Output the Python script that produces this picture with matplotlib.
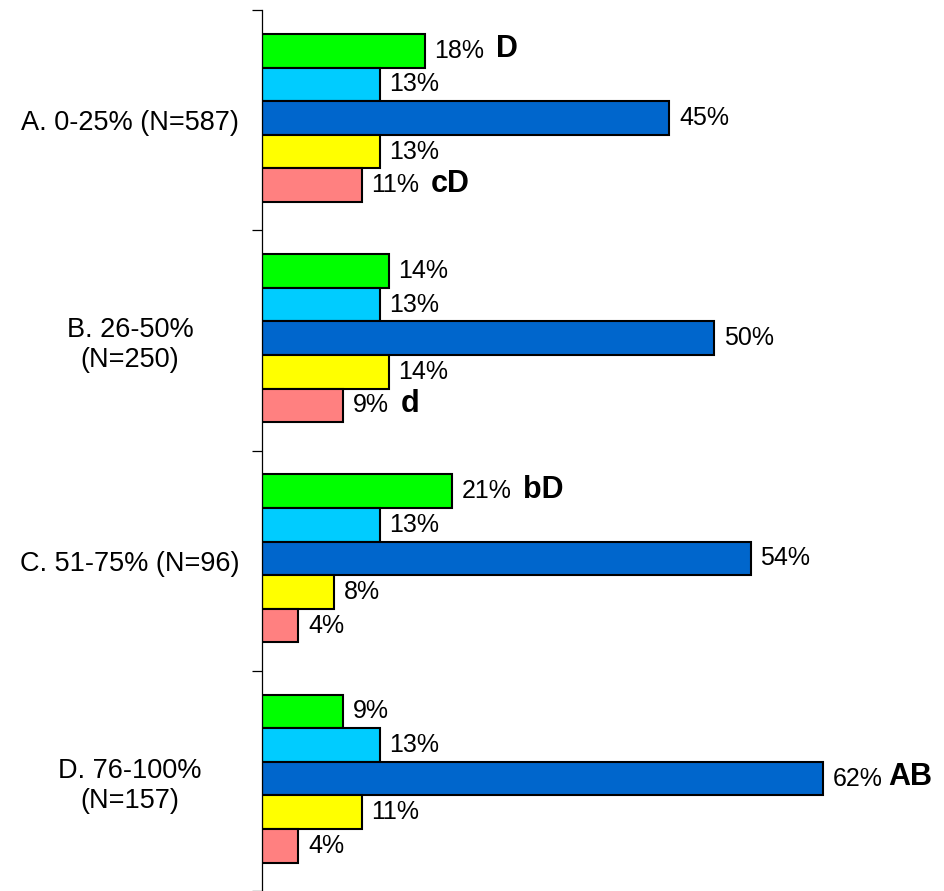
import matplotlib
matplotlib.use("Agg")
import matplotlib.pyplot as plt

plt.rcParams['font.family'] = ['Liberation Sans', 'DejaVu Sans']

categories = ["A. 0-25% (N=587)", "B. 26-50%\n(N=250)", "C. 51-75% (N=96)", "D. 76-100%\n(N=157)"]
series_colors = ["#00FF00", "#00CCFF", "#0066CC", "#FFFF00", "#FF8080"]
# rows: groups A-D, columns: the five series (top to bottom within a group)
values = [
    [18, 13, 45, 13, 11],
    [14, 13, 50, 14, 9],
    [21, 13, 54, 8, 4],
    [9, 13, 62, 11, 4],
]
# significance letters: (group index, series index) -> letters
sig_letters = {
    (0, 0): "D",
    (0, 4): "cD",
    (1, 4): "d",
    (2, 0): "bD",
    (3, 2): "AB",
}

fig = plt.figure(figsize=(9.45, 8.91), dpi=100)
ax = fig.add_axes([262 / 945, 0.0, 1 - 262 / 945, 1 - 10 / 891])

n_series = len(series_colors)
bar_h = 0.1525
for gi, row in enumerate(values):
    for si, v in enumerate(row):
        yc = gi + 0.5 + (si - (n_series - 1) / 2) * bar_h - 0.01
        ax.barh(yc, v, height=bar_h, color=series_colors[si],
                edgecolor="black", linewidth=1.5, zorder=2)
        t = ax.annotate(f"{v}%", xy=(v, yc), xytext=(7, 0),
                        textcoords="offset points", va="center", ha="left",
                        fontsize=18)
        if (gi, si) in sig_letters:
            gap = 4 if sig_letters[(gi, si)] == "AB" else 8
            ax.annotate(sig_letters[(gi, si)], xy=(1, 0.5), xycoords=t,
                        xytext=(gap, 1), textcoords="offset points",
                        va="center", ha="left", fontsize=22, fontweight="bold")

ax.set_xlim(0, (945 - 262) / 9.05)
ax.set_ylim(4, 0)

for s in ["top", "right", "bottom"]:
    ax.spines[s].set_visible(False)
ax.spines["left"].set_linewidth(0.9)
ax.set_xticks([])

ax.set_yticks([0, 1, 2, 3, 4])
ax.set_yticklabels([])
ax.tick_params(axis="y", length=7, width=0.9, direction="out")
ax.set_yticks([g + 0.5 for g in range(len(categories))], minor=True)
ax.set_yticklabels(categories, minor=True, fontsize=19.5, ha="center",
                   multialignment="center")
ax.tick_params(axis="y", which="minor", length=0, pad=95)

fig.savefig("out.png", dpi=100)
